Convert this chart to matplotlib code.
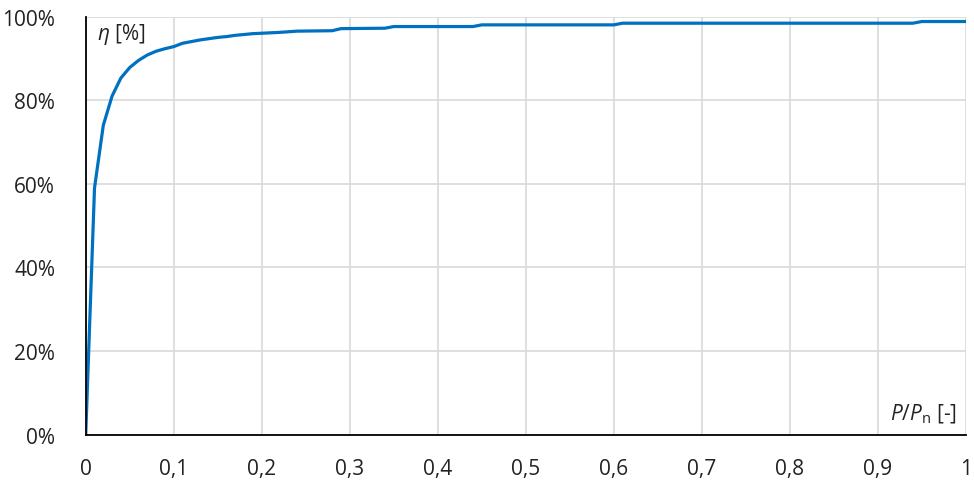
import matplotlib
matplotlib.use("Agg")
import matplotlib.pyplot as plt
from matplotlib.ticker import FuncFormatter

plt.rcParams['font.family'] = ['Open Sans', 'DejaVu Sans']
plt.rcParams['mathtext.fontset'] = 'custom'
plt.rcParams['mathtext.rm'] = 'Open Sans'
plt.rcParams['mathtext.it'] = 'Open Sans:italic'

# Load ratio P/Pn and efficiency eta [%]
load_ratio = [0.0, 0.01, 0.02, 0.03, 0.04, 0.05, 0.06, 0.07, 0.08, 0.09, 0.10,
              0.11, 0.12, 0.13, 0.14, 0.15, 0.16, 0.17, 0.18, 0.19, 0.20,
              0.22, 0.24, 0.28, 0.29, 0.34, 0.35, 0.44, 0.45, 0.60, 0.61,
              0.94, 0.95, 1.00]
efficiency = [0.0, 59.0, 74.0, 81.0, 85.3, 87.8, 89.5, 90.8, 91.7, 92.3, 92.8,
              93.6, 94.0, 94.4, 94.7, 95.0, 95.2, 95.5, 95.7, 95.9, 96.0,
              96.2, 96.5, 96.6, 97.1, 97.2, 97.6, 97.6, 98.0, 98.0, 98.4,
              98.4, 98.8, 98.8]

x_ticks = [0, 0.1, 0.2, 0.3, 0.4, 0.5, 0.6, 0.7, 0.8, 0.9, 1.0]
y_ticks = [0, 20, 40, 60, 80, 100]

text_color = '#222222'

fig = plt.figure(figsize=(9.74, 4.81), dpi=100)
ax = fig.add_axes([0.088, 0.0942, 0.9035, 0.8694])

ax.plot(load_ratio, efficiency, color='#0070C0', lw=2.3, solid_joinstyle='round', zorder=3)

ax.set_xlim(0, 1)
ax.set_ylim(0, 100)
ax.set_xticks(x_ticks)
ax.set_yticks(y_ticks)

def fmt_x(v, pos):
    if abs(v) < 1e-9:
        return '0'
    if abs(v - 1) < 1e-9:
        return '1'
    return ('%.1f' % v).replace('.', ',')

ax.xaxis.set_major_formatter(FuncFormatter(fmt_x))
ax.yaxis.set_major_formatter(FuncFormatter(lambda v, p: '%d%%' % v))

ax.grid(True, color='#d9d9d9', lw=1.2, zorder=0)
ax.set_axisbelow(True)

for s in ['top', 'right']:
    ax.spines[s].set_visible(False)
for s in ['left', 'bottom']:
    ax.spines[s].set_color('black')
    ax.spines[s].set_linewidth(1.3)
    ax.spines[s].set_zorder(4)

ax.tick_params(axis='both', length=0, labelsize=15, colors=text_color)
ax.tick_params(axis='x', pad=17)
ax.tick_params(axis='y', pad=22)

ax.text(0.0125, 0.946, r'$\eta$ [%]', transform=ax.transAxes, fontsize=15,
        color=text_color, ha='left', va='baseline')
ax.text(0.9898, 0.0375, r'$P/P_{\mathrm{n}}$ [-]', transform=ax.transAxes, fontsize=15,
        color=text_color, ha='right', va='baseline')

fig.savefig('out.png', dpi=100, facecolor='white')
